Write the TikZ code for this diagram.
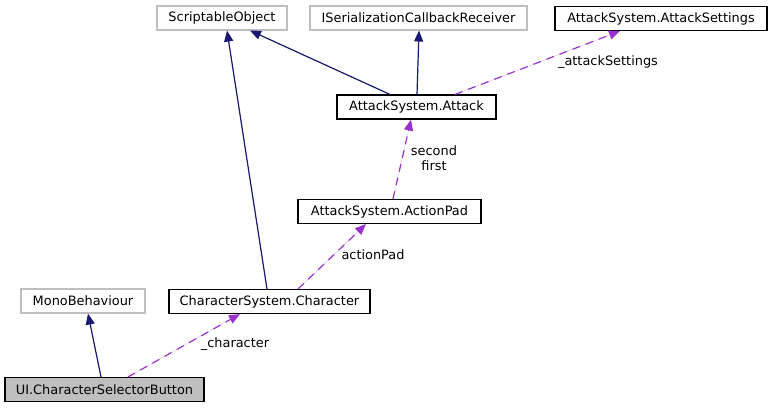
\documentclass[tikz,border=0pt]{standalone}
\usepackage{fontspec}
\setmainfont{DejaVu Sans}
\usetikzlibrary{arrows.meta}
\definecolor{inhblue}{HTML}{191970}
\definecolor{usepurple}{HTML}{9A32CD}
\definecolor{extgray}{HTML}{BFBFBF}
\tikzset{
  cls/.style={draw=black,line width=1.1pt,minimum height=24pt,inner sep=0pt,fill=white},
  ext/.style={cls,draw=extgray},
  inh/.style={-{Triangle[length=11pt,width=9pt]},draw=inhblue,fill=inhblue,line width=1.2pt},
  usage/.style={-{Triangle[length=11pt,width=9pt]},draw=usepurple,fill=usepurple,
    line width=1.2pt,dash pattern=on 8pt off 6pt},
  lbl/.style={align=center,inner sep=0pt}
}

\begin{document}
\begin{tikzpicture}[x=1pt,y=-1pt,font=\fontsize{12.9}{15}\selectfont]
  \useasboundingbox (0,0) rectangle (772,409);
  \node[ext,minimum width=130pt] (so) at (222,18) {ScriptableObject};
  \node[ext,minimum width=217pt] (isr) at (418.5,18) {ISerializationCallbackReceiver};
  \node[cls,minimum width=212pt] (aset) at (661,18.5) {AttackSystem.AttackSettings};
  \node[cls,minimum width=159pt] (att) at (416.5,107) {AttackSystem.Attack};
  \node[cls,minimum width=183pt] (apad) at (389.5,211.5) {AttackSystem.ActionPad};
  \node[ext,minimum width=124pt] (mono) at (83,301) {MonoBehaviour};
  \node[cls,minimum width=201pt] (chr) at (269.5,301.5) {CharacterSystem.Character};
  \node[cls,fill=extgray,minimum width=199pt] (btn) at (104.5,389.5) {UI.CharacterSelectorButton};

  \draw[inh] ([xshift=-3.5pt]btn.north) -- ([xshift=5pt]mono.south);
  \draw[usage] ([xshift=23.5pt]btn.north) -- ([xshift=-29.5pt]chr.south);
  \draw[inh] ([xshift=-2.5pt]chr.north) -- ([xshift=5pt]so.south);
  \draw[inh] ([xshift=-26.5pt]att.north) -- ([xshift=28pt]so.south);
  \draw[inh] ([xshift=0.5pt]att.north) -- ([xshift=0.5pt]isr.south);
  \draw[usage] ([xshift=38.5pt]att.north) -- ([xshift=-41pt]aset.south);
  \draw[usage] ([xshift=3.5pt]apad.north) -- ([xshift=-5.5pt]att.south);
  \draw[usage] ([xshift=-72.5pt]chr.north east) -- ([xshift=-23.5pt]apad.south);

  \node[lbl] (lchr) at (235,344) {\_character};
  \node[lbl] (lset) at (608,62) {\_attackSettings};
  \node[lbl] (lpair) at (434,158) {second\\first};
  \node[lbl] (lpad) at (373,255) {actionPad};
\end{tikzpicture}
\end{document}
